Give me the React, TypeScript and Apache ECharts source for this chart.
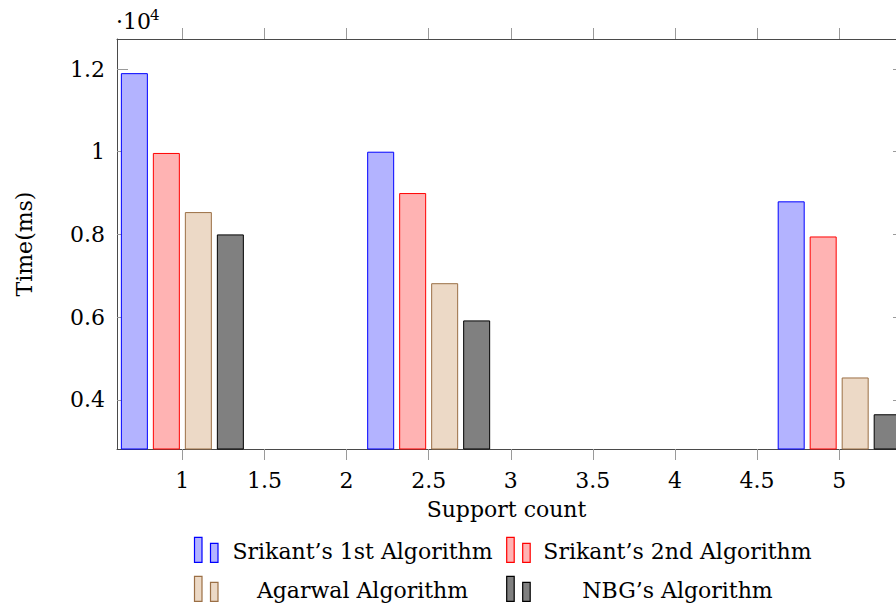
import React, { useEffect, useRef } from "react";
import * as echarts from "echarts";

const seriesNames = [
  "Srikant\u2019s 1st Algorithm",
  "Srikant\u2019s 2nd Algorithm",
  "Agarwal Algorithm",
  "NBG\u2019s Algorithm",
];
const supportCounts = [1, 2.5, 5];
const srikant1 = [11900, 10000, 8800];
const srikant2 = [9970, 9000, 7950];
const agarwal = [8540, 6820, 4540];
const nbg = [8000, 5920, 3650];
const xTickValues = [1, 1.5, 2, 2.5, 3, 3.5, 4, 4.5, 5];
const yTickValues = [4000, 6000, 8000, 10000, 12000];

const fills = ["#b3b3ff", "#ffb3b3", "#ecd9c6", "#808080"];
const borders = ["#0000ff", "#ff0000", "#9b6f45", "#000000"];

const FONT = "DejaVu Serif";
const FS = 22;

export default function App() {
  const ref = useRef<HTMLDivElement>(null);
  useEffect(() => {
    if (!ref.current) return;
    const chart = echarts.init(ref.current, undefined, { renderer: "svg" });
    const allValues = [srikant1, srikant2, agarwal, nbg];
    const series = allValues.map((vals, i) => ({
      type: "bar",
      name: seriesNames[i],
      xAxisIndex: 0,
      yAxisIndex: 0,
      barWidth: 27,
      barGap: "18.5%",
      data: supportCounts.map((x, j) => [x, vals[j]]),
      itemStyle: { color: fills[i], borderColor: borders[i], borderWidth: 1 },
    }));

    const legendGraphics: any[] = [];
    const colIcon = [194.5, 506.7];
    const colTextCenter = [362.5, 677.5];
    const rowTop = [537.3, 576.3];
    seriesNames.forEach((name, i) => {
      const r = Math.floor(i / 2);
      const c = i % 2;
      const style = { fill: fills[i], stroke: borders[i], lineWidth: 1.2 };
      legendGraphics.push({
        type: "rect",
        shape: { x: colIcon[c], y: rowTop[r], width: 7.5, height: 25 },
        style,
      });
      legendGraphics.push({
        type: "rect",
        shape: { x: colIcon[c] + 16, y: rowTop[r] + 6, width: 7.5, height: 19 },
        style,
      });
      legendGraphics.push({
        type: "text",
        x: colTextCenter[c],
        y: rowTop[r] + 14.5,
        style: {
          text: name,
          fontFamily: FONT,
          fontSize: FS,
          fill: "#000",
          align: "center",
          verticalAlign: "middle",
        },
      });
    });

    const axisLineStyle = { color: "#4a4a4a", width: 1 };
    const tickStyle = { color: "#9a9a9a", width: 1 };
    const xMin = 0.602;
    const xMax = 5.346;

    chart.setOption({
      animation: false,
      grid: { left: 117, top: 39, bottom: 163, right: 0, show: false },
      xAxis: [
        {
          type: "value",
          position: "bottom",
          min: xMin,
          max: xMax,
          axisLine: { show: true, onZero: false, lineStyle: axisLineStyle },
          axisTick: { show: true, inside: false, length: 11, lineStyle: tickStyle, customValues: xTickValues },
          axisLabel: {
            customValues: xTickValues,
            margin: 20,
            fontFamily: FONT,
            fontSize: FS,
            color: "#000",
            formatter: (v: number) => String(v),
          },
          splitLine: { show: false },
          name: "Support count",
          nameLocation: "middle",
          nameGap: 49,
          nameTextStyle: { fontFamily: FONT, fontSize: FS, color: "#000" },
        },
        {
          type: "value",
          position: "top",
          min: xMin,
          max: xMax,
          axisLine: { show: true, onZero: false, lineStyle: axisLineStyle },
          axisTick: { show: true, inside: false, length: 11, lineStyle: tickStyle, customValues: xTickValues },
          axisLabel: { show: false },
          splitLine: { show: false },
        },
      ],
      yAxis: [
        {
          type: "value",
          position: "left",
          min: 2810,
          max: 12726,
          axisLine: { show: true, onZero: false, lineStyle: axisLineStyle },
          axisTick: { show: true, inside: true, length: 11, lineStyle: tickStyle, customValues: yTickValues },
          axisLabel: {
            customValues: yTickValues,
            margin: 12,
            fontFamily: FONT,
            fontSize: FS,
            color: "#000",
            formatter: (v: number) => String(Math.round(v / 1000) / 10),
          },
          splitLine: { show: false },
          name: "Time(ms)",
          nameLocation: "middle",
          nameGap: 82,
          nameRotate: 90,
          nameTextStyle: { fontFamily: FONT, fontSize: FS, color: "#000" },
        },
        {
          type: "value",
          position: "right",
          min: 2810,
          max: 12726,
          axisLine: { show: false },
          axisTick: { show: true, inside: true, length: 3, lineStyle: tickStyle, customValues: yTickValues },
          axisLabel: { show: false },
          splitLine: { show: false },
        },
      ],
      series,
      graphic: [
        {
          type: "text",
          x: 116,
          y: 21,
          style: { text: "\u00b710", fontFamily: FONT, fontSize: FS, fill: "#000", verticalAlign: "middle" },
        },
        {
          type: "text",
          x: 150,
          y: 15,
          style: { text: "4", fontFamily: FONT, fontSize: 15, fill: "#000", verticalAlign: "middle" },
        },
        ...legendGraphics,
      ],
    });
    return () => chart.dispose();
  }, []);
  return <div ref={ref} style={{ width: 896, height: 612, position: "absolute", left: 0, top: 0 }} />;
}
